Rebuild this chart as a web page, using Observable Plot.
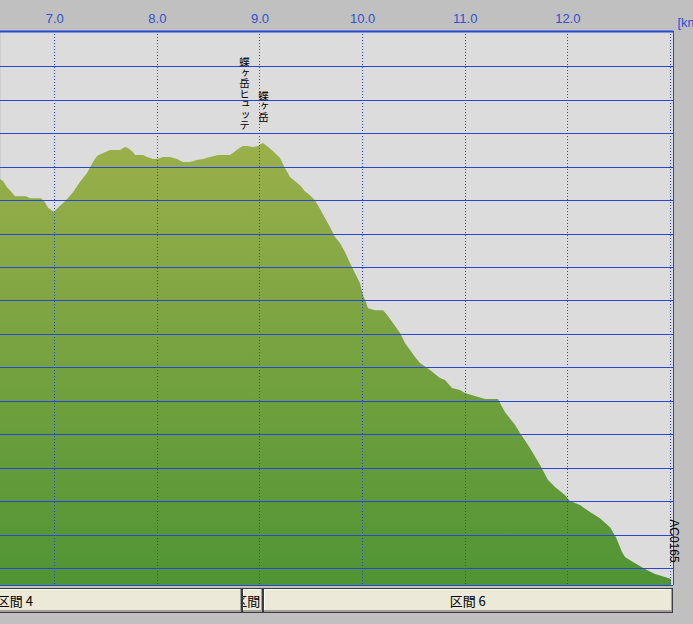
<!DOCTYPE html>
<html><head><meta charset="utf-8">
<script src="https://cdn.jsdelivr.net/npm/d3@7"></script>
<script src="https://cdn.jsdelivr.net/npm/@observablehq/plot@0.6"></script>
<style>
html,body{margin:0;padding:0;background:#c0c0c0;width:693px;height:624px;overflow:hidden}
#sections{position:relative;width:693px;height:38px;overflow:hidden;background:#c0c0c0}
.sec{position:absolute;top:2px;height:25px;box-sizing:border-box;background:#ece9d8;border:1px solid #3c3c44;box-shadow:inset -1px -2px #a4a09a, inset 1px 1px #ffffff;overflow:hidden;white-space:nowrap;display:flex;justify-content:center;align-items:center;font-family:"Noto Sans CJK JP",sans-serif;font-size:13px;color:#000}
.sec span{flex:none}
</style></head>
<body>
<div id="chart"></div>
<script>
// ---- data ----
const kmTicks = [7, 8, 9, 10, 11, 12, 13];
const kmLabels = [7, 8, 9, 10, 11, 12];
const kmUnit = "[km]";
const elevGrid = [1400, 1500, 1600, 1700, 1800, 1900, 2000, 2100, 2200, 2300, 2400, 2500, 2600, 2700, 2800, 2900];
const xDomain = [6.471, 13.03];
const yDomain = [1349, 3006];

const profileKm = [6.471, 6.500, 6.539, 6.568, 6.617, 6.724, 6.763, 6.870, 6.909, 6.939, 6.968, 6.997, 7.026, 7.056, 7.114, 7.182, 7.250, 7.319, 7.377, 7.416, 7.475, 7.523, 7.543, 7.640, 7.689, 7.718, 7.767, 7.787, 7.865, 7.904, 7.962, 8.001, 8.030, 8.059, 8.127, 8.196, 8.254, 8.322, 8.391, 8.449, 8.517, 8.595, 8.712, 8.741, 8.790, 8.838, 8.877, 8.936, 8.985, 9.014, 9.034, 9.073, 9.131, 9.200, 9.248, 9.297, 9.395, 9.443, 9.492, 9.541, 9.589, 9.638, 9.687, 9.736, 9.784, 9.833, 9.882, 9.930, 9.979, 10.009, 10.038, 10.057, 10.126, 10.204, 10.243, 10.301, 10.370, 10.418, 10.467, 10.516, 10.564, 10.662, 10.759, 10.808, 10.876, 10.954, 11.003, 11.100, 11.198, 11.324, 11.393, 11.490, 11.539, 11.636, 11.734, 11.812, 11.880, 11.977, 12.026, 12.123, 12.221, 12.318, 12.416, 12.474, 12.533, 12.562, 12.640, 12.757, 12.854, 12.952, 13.010];
const profileElev = [2563, 2557, 2539, 2530, 2512, 2512, 2506, 2506, 2494, 2477, 2471, 2465, 2474, 2483, 2500, 2524, 2554, 2581, 2614, 2632, 2641, 2647, 2650, 2650, 2659, 2656, 2644, 2635, 2635, 2629, 2623, 2623, 2626, 2629, 2629, 2623, 2614, 2614, 2620, 2623, 2629, 2635, 2635, 2641, 2653, 2662, 2662, 2659, 2662, 2668, 2671, 2662, 2647, 2626, 2596, 2569, 2545, 2527, 2515, 2500, 2474, 2447, 2420, 2390, 2372, 2345, 2312, 2282, 2252, 2216, 2195, 2177, 2171, 2171, 2157, 2133, 2103, 2073, 2052, 2031, 2013, 1992, 1968, 1962, 1938, 1932, 1923, 1914, 1905, 1905, 1866, 1828, 1804, 1759, 1708, 1663, 1642, 1618, 1600, 1588, 1567, 1549, 1522, 1492, 1448, 1433, 1418, 1397, 1382, 1373, 1367];

const placeNames = ["蝶ヶ岳ヒュッテ", "蝶ヶ岳"];
const placeKm = [8.85, 9.035];
const placeLabelTop = [2952, 2852];

const endCode = "AC0165";
const endLabelElev = 1482;

const sectionNames = ["区間 4", "区間 5", "区間 6"];
const sectionStart = [4.40, 8.83, 9.03];
const sectionEnd = [8.83, 9.03, 13.03];

// ---- build ----
const profile = profileKm.map((km, i) => ({km, elev: profileElev[i]}));
const places = placeNames.map((name, i) => ({name, km: placeKm[i], top: placeLabelTop[i]}));
const ends = [{code: endCode, km: xDomain[1], elev: endLabelElev}];

const gridBlue = "#2a46d8";
const axisBlue = "#3050d0";

const plot = Plot.plot({
  width: 693,
  height: 586,
  marginLeft: 0,
  marginRight: 20,
  marginTop: 31,
  marginBottom: 1,
  x: {domain: xDomain, axis: null},
  y: {domain: yDomain, axis: null},
  style: {background: "#c0c0c0", fontFamily: "'Liberation Sans', Arial, sans-serif", fontSize: "13px", overflow: "hidden"},
  marks: [
    Plot.frame({fill: "#dcdcdc", stroke: null}),
    Plot.areaY(profile, {x: "km", y1: yDomain[0], y2: "elev", fill: "url(#elevGrad)"}),
    Plot.ruleY(elevGrid, {stroke: gridBlue, shapeRendering: "crispEdges"}),
    Plot.ruleX(kmTicks, {stroke: gridBlue, strokeDasharray: "1,2", shapeRendering: "crispEdges"}),
    Plot.ruleY([yDomain[1]], {stroke: gridBlue, strokeWidth: 2}),
    Plot.ruleY([yDomain[0]], {stroke: gridBlue, shapeRendering: "crispEdges"}),
    Plot.ruleX([xDomain[1]], {stroke: gridBlue, shapeRendering: "crispEdges"}),
    Plot.axisX(kmLabels, {anchor: "top", tickSize: 0, tickPadding: 9, tickFormat: d => d.toFixed(1), color: axisBlue, label: null}),
    Plot.text([kmUnit], {frameAnchor: "top-right", dx: 4, dy: -14, textAnchor: "start", fill: axisBlue}),
    Plot.text(places, {x: "km", y: "top", text: "name", fontSize: 10.5, fontFamily: "'Noto Sans CJK JP', sans-serif", textAnchor: "start", lineAnchor: "top", fill: "#000"}),
    Plot.text(ends, {x: "km", y: "elev", text: "code", rotate: 90, fontSize: 12, fill: "#000"})
  ]
});

const NS = "http://www.w3.org/2000/svg";
const defs = document.createElementNS(NS, "defs");
const grad = document.createElementNS(NS, "linearGradient");
grad.setAttribute("id", "elevGrad");
grad.setAttribute("gradientUnits", "userSpaceOnUse");
grad.setAttribute("x1", 0); grad.setAttribute("x2", 0);
grad.setAttribute("y1", 140); grad.setAttribute("y2", 585);
[["0", "#9bb04b"], ["1", "#509434"]].forEach(([o, c]) => {
  const s = document.createElementNS(NS, "stop");
  s.setAttribute("offset", o); s.setAttribute("stop-color", c);
  grad.appendChild(s);
});
defs.appendChild(grad);
plot.insertBefore(defs, plot.firstChild);

plot.querySelectorAll("text").forEach(t => {
  if (placeNames.includes(t.textContent)) {
    t.removeAttribute("dy");
    t.setAttribute("writing-mode", "vertical-rl");
    t.setAttribute("text-orientation", "upright");
    t.style.writingMode = "vertical-rl";
    t.style.textOrientation = "upright";
  }
});

document.getElementById("chart").appendChild(plot);

const xs = plot.scale("x");
const secDiv = document.createElement("div");
secDiv.id = "sections";
sectionNames.forEach((name, i) => {
  const d = document.createElement("div");
  d.className = "sec";
  const a = xs.apply(sectionStart[i]), b = xs.apply(sectionEnd[i]);
  d.style.left = a + "px";
  d.style.width = (b - a) + "px";
  const sp = document.createElement("span");
  sp.textContent = name;
  d.appendChild(sp);
  secDiv.appendChild(d);
});
document.getElementById("chart").appendChild(secDiv);
</script>
</body></html>
